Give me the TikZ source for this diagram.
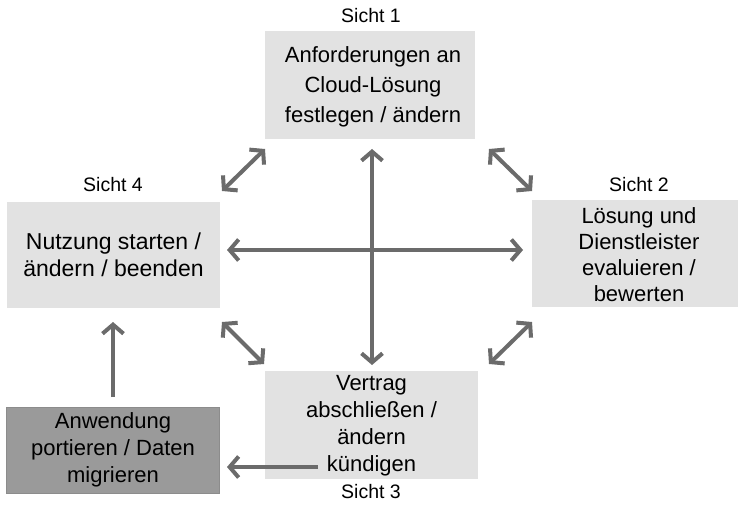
\documentclass[tikz,border=0pt]{standalone}
\usepackage{fontspec}
\setmainfont{Liberation Sans}
\usetikzlibrary{arrows.meta}
\definecolor{boxfill}{HTML}{E2E2E2}
\definecolor{darkfill}{HTML}{9A9A9A}
\definecolor{darkline}{HTML}{8C8C8C}
\definecolor{arrowcol}{HTML}{6B6B6B}
\tikzset{
  lightbox/.style={fill=boxfill, draw=none, inner sep=0pt, align=center, font=\fontsize{22}{27}\selectfont},
  darkbox/.style={fill=darkfill, draw=darkline, line width=0.8pt, inner sep=0pt, align=center, font=\fontsize{22}{27}\selectfont},
  boxtext/.style={inner sep=0pt, align=center, font=\fontsize{22}{27}\selectfont},
  viewlabel/.style={inner sep=0pt, font=\fontsize{19.5}{22}\selectfont},
  conn/.style={draw=arrowcol, line width=4pt, {Straight Barb[length=9pt,width=21pt]}-{Straight Barb[length=9pt,width=21pt]}},
  oneway/.style={draw=arrowcol, line width=4pt, -{Straight Barb[length=9pt,width=21pt]}}
}
\begin{document}
\begin{tikzpicture}[x=1pt,y=-1pt]
\useasboundingbox (0,0) rectangle (738,505);
\fill[white] (0,0) rectangle (738,505);
% boxes
\node[lightbox, minimum width=210pt, minimum height=108pt] (top) at (370,85) {};
\node[boxtext, font=\fontsize{22}{30}\selectfont] (toptext) at (373,87) {Anforderungen an\\Cloud-Lösung\\festlegen / ändern};
\node[lightbox, minimum width=213pt, minimum height=106pt, font=\fontsize{23}{27}\selectfont] (left) at (113.5,255) {Nutzung starten /\\ändern / beenden};
\node[lightbox, minimum width=206pt, minimum height=107pt] (right) at (635,253.5) {};
\node[boxtext, font=\fontsize{22}{26}\selectfont] (righttext) at (639,254.5) {Lösung und\\Dienstleister\\evaluieren /\\bewerten};
\node[lightbox, minimum width=213pt, minimum height=108pt] (bottom) at (371.5,425) {};
\node[boxtext] (bottomtext) at (371.5,426) {Vertrag\\abschließen /\\ändern\\kündigen};
\node[darkbox, minimum width=213pt, minimum height=86pt] (dark) at (113,450) {Anwendung\\portieren / Daten\\migrieren};
% labels
\node[viewlabel] (s1) at (371,16) {Sicht 1};
\node[viewlabel] (s2) at (639,185) {Sicht 2};
\node[viewlabel] (s3) at (371,492) {Sicht 3};
\node[viewlabel] (s4) at (113,185) {Sicht 4};
% connector end points
\coordinate (tlA) at (265,149);
\coordinate (tlB) at (222,191);
\coordinate (trA) at (489,149);
\coordinate (trB) at (532,191);
\coordinate (blA) at (222,322);
\coordinate (blB) at (264,364);
\coordinate (brA) at (532,322);
\coordinate (brB) at (489,364);
\coordinate (vA) at (372,149);
\coordinate (vB) at (372,365);
\coordinate (hA) at (227,250);
\coordinate (hB) at (523,250);
\coordinate (upA) at (113,397);
\coordinate (upB) at (113,322);
\coordinate (lfA) at (318,467);
\coordinate (lfB) at (227,467);
% connectors
\draw[conn] (tlA) -- (tlB);
\draw[conn] (trA) -- (trB);
\draw[conn] (blA) -- (blB);
\draw[conn] (brA) -- (brB);
\draw[conn] (vA) -- (vB);
\draw[conn] (hA) -- (hB);
\draw[oneway] (upA) -- (upB);
\draw[oneway] (lfA) -- (lfB);
\end{tikzpicture}
\end{document}
